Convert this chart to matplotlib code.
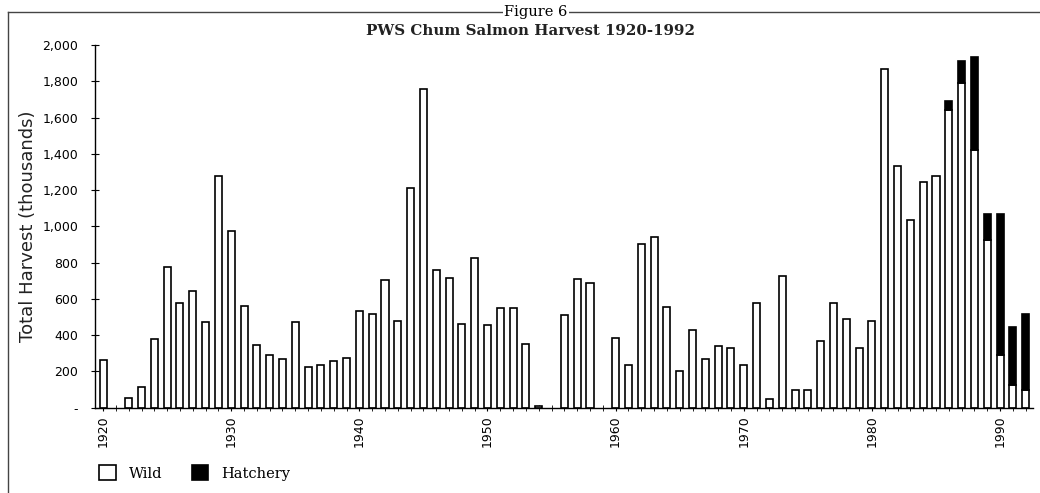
import matplotlib
matplotlib.use('Agg')
import matplotlib.pyplot as plt
from matplotlib.lines import Line2D
from matplotlib.patches import Patch
from matplotlib.ticker import FuncFormatter, MultipleLocator
import numpy as np

years = list(range(1920, 1993))
wild = [265, 0, 55, 115, 380, 775, 575, 645, 475, 1280,
        975, 560, 345, 290, 270, 475, 225, 235, 260, 275,
        535, 515, 705, 480, 1210, 1755, 760, 715, 460, 825,
        455, 550, 550, 350, 12, 0, 510, 710, 690, 0,
        385, 235, 900, 940, 555, 200, 430, 270, 340, 330,
        235, 580, 50, 725, 95, 95, 370, 575, 490, 330,
        480, 1870, 1335, 1035, 1245, 1275, 1640, 1790, 1420, 925,
        290, 125, 100]
hatchery = [0] * 66 + [50, 120, 515, 145, 780, 320, 415]
decade_ticks = [1920, 1930, 1940, 1950, 1960, 1970, 1980, 1990]
y_ticks = list(range(0, 2001, 200))

title_fig = "Figure 6"
title = "PWS Chum Salmon Harvest 1920-1992"
ylabel = "Total Harvest (thousands)"

fig = plt.figure(figsize=(10.4, 4.93), dpi=100)
ax = fig.add_axes([95/1040, 1-407.7/493, (1033-95)/1040, (407.7-45)/493])

yrs = np.array(years)
w = np.array(wild, dtype=float)
h = np.array(hatchery, dtype=float)
mw = w > 0
ax.bar(yrs[mw], w[mw], width=0.55, color='white', edgecolor='black', linewidth=1.2, zorder=2)
mh = h > 0
ax.bar(yrs[mh], h[mh], bottom=w[mh], width=0.55, color='black', edgecolor='black', linewidth=1.2, zorder=2)

ax.set_xlim(1919.37, 1992.57)
ax.set_ylim(0, 2000)
ax.set_yticks(y_ticks)
ax.yaxis.set_major_formatter(FuncFormatter(lambda v, p: '-' if v == 0 else f'{int(v):,}'))
ax.set_xticks(decade_ticks)
ax.set_xticklabels([str(d) for d in decade_ticks], rotation=90)
ax.xaxis.set_minor_locator(MultipleLocator(1))
ax.tick_params(axis='x', which='major', direction='inout', length=5, labelsize=9, pad=3)
ax.tick_params(axis='x', which='minor', direction='inout', length=4)
ax.tick_params(axis='y', direction='inout', length=6, labelsize=9, pad=9)
for s in ['top', 'right']:
    ax.spines[s].set_visible(False)
for s in ['left', 'bottom']:
    ax.spines[s].set_linewidth(1.0)

ax.set_ylabel(ylabel, fontsize=13, labelpad=4, color='#222222')

fig.text(536/1040, 1-12/493, title_fig, ha='center', va='center', family='DejaVu Serif',
         fontsize=10.5, bbox=dict(facecolor='white', edgecolor='none', pad=1))
fig.text(531/1040, 1-31/493, title, ha='center', va='center', family='DejaVu Serif',
         fontsize=10.8, fontweight='bold', color='#222222')

# page frame lines
fig.add_artist(Line2D([8/1040, 1.0], [1-12/493, 1-12/493], color='#444444', lw=1.0, zorder=0))
fig.add_artist(Line2D([8/1040, 8/1040], [1-12/493, 0], color='#444444', lw=1.0, zorder=0))

handles = [Patch(facecolor='white', edgecolor='black', linewidth=1.2, label='Wild'),
           Patch(facecolor='black', edgecolor='black', linewidth=1.2, label='Hatchery')]
fig.legend(handles=handles, loc='center left', bbox_to_anchor=(86/1040, 1-473/493), ncol=2,
           frameon=False, handlelength=1.15, handleheight=1.15, columnspacing=2.0,
           handletextpad=0.9, prop={'family': 'DejaVu Serif', 'size': 10.5})

fig.savefig('out.png', dpi=100)
